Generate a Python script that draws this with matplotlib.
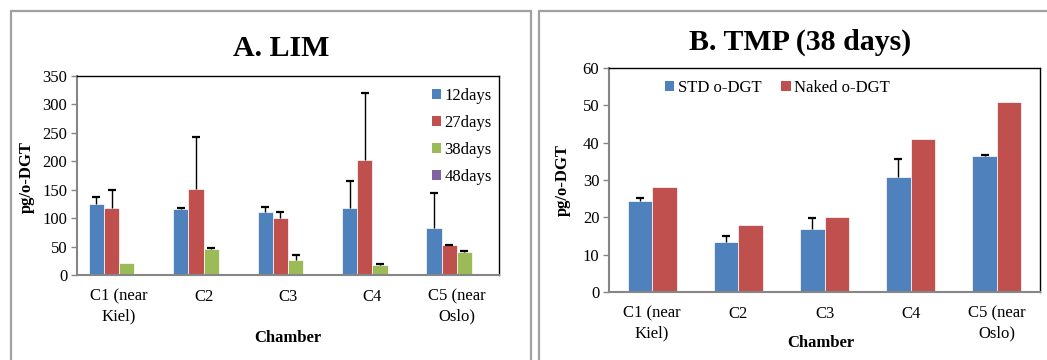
import matplotlib.pyplot as plt
from matplotlib.patches import Patch, Rectangle
import numpy as np

plt.rcParams['font.family'] = ['Liberation Serif', 'DejaVu Serif']

# chamber labels (same for both panels)
chambers = ['C1 (near\nKiel)', 'C2', 'C3', 'C4', 'C5 (near\nOslo)']

# panel A - LIM
lim_series = ['12days', '27days', '38days', '48days']
lim_12 = [125, 116, 110, 118, 82]
lim_27 = [118, 151, 100, 203, 52]
lim_38 = [21, 45, 27, 17, 41]
lim_48 = [0, 0, 0, 0, 0]
lim_12_err = [12, 2, 9, 47, 62]
lim_27_err = [32, 92, 10, 117, 1]
lim_38_err = [0, 3, 9, 2, 2]
lim_48_err = [0, 0, 0, 0, 0]

# panel B - TMP (38 days)
tmp_series = ['STD o-DGT', 'Naked o-DGT']
tmp_std = [24.5, 13.5, 16.8, 30.7, 36.4]
tmp_naked = [28, 18, 20, 41, 51]
tmp_std_err = [0.7, 1.5, 3.0, 4.9, 0.3]
tmp_naked_err = [0, 0, 0, 0, 0]

blue = '#4F81BD'
red = '#C0504D'
green = '#9BBB59'
purple = '#8064A2'

W, H = 1047, 360
fig = plt.figure(figsize=(W / 100, H / 100), dpi=100)

# chart area frames (Excel style)
for x0, x1 in [(11, 531), (539, 1060)]:
    fig.patches.append(Rectangle((x0 / W, -0.2), (x1 - x0) / W, 1.2 - 10.5 / H,
                                 transform=fig.transFigure, fill=False,
                                 edgecolor='#a0a0a0', lw=1.6))


def style_axes(ax, ymax, step):
    ax.set_xlim(-0.5, 4.5)
    ax.set_ylim(0, ymax)
    ax.set_yticks(np.arange(0, ymax + 1, step))
    ax.set_xticks(range(5))
    ax.set_xticklabels(chambers, fontsize=12)
    for t in ax.get_xticklabels():
        t.set_linespacing(1.3)
    ax.tick_params(axis='x', length=0, pad=10)
    ax.tick_params(axis='y', length=4, width=1, color='#868686', labelsize=12, pad=3)
    for s in ['top', 'right']:
        ax.spines[s].set_color('black')
        ax.spines[s].set_linewidth(1)
    for s in ['left', 'bottom']:
        ax.spines[s].set_color('#868686')
        ax.spines[s].set_linewidth(1.5)


def draw_bars(ax, vals, errs, colors, width):
    n = len(vals)
    x = np.arange(5)
    for i in range(n):
        off = (i - (n - 1) / 2) * width
        heights = np.array(vals[i], dtype=float)
        e = np.array(errs[i], dtype=float)
        ax.bar(x + off, heights, width, color=colors[i],
               edgecolor='white' if heights.any() else 'none', linewidth=0.5, zorder=2)
        mask = e > 0
        if mask.any():
            xs = (x + off)[mask]
            ax.vlines(xs, heights[mask], heights[mask] + e[mask],
                      color='black', lw=1, zorder=3)
            # upper cap only
            ax.plot(xs, heights[mask] + e[mask], ls='none', marker='_',
                    ms=6, mew=1.6, color='black', zorder=3)


# ---- panel A
axA = fig.add_axes([77 / W, (H - 275) / H, (499 - 77) / W, (275 - 76) / H])
style_axes(axA, 350, 50)
draw_bars(axA, [lim_12, lim_27, lim_38, lim_48],
          [lim_12_err, lim_27_err, lim_38_err, lim_48_err],
          [blue, red, green, purple], 0.18)
handles = [Patch(facecolor=c, edgecolor='none') for c in [blue, red, green, purple]]
axA.legend(handles, lim_series, loc='upper left', bbox_to_anchor=(0.825, 0.975),
           frameon=False, fontsize=12, handlelength=0.55, handleheight=0.55,
           handletextpad=0.2, labelspacing=0.66, borderaxespad=0)
fig.text(281 / W, 1 - 48 / H, 'A. LIM', ha='center', va='center',
         fontsize=21.5, fontweight='bold')
fig.text(27 / W, 1 - 177 / H, 'pg/o-DGT', ha='center', va='center',
         rotation=90, fontsize=12, fontweight='bold')
fig.text(288 / W, 1 - 338 / H, 'Chamber', ha='center', va='center',
         fontsize=12, fontweight='bold')

# ---- panel B
axB = fig.add_axes([609 / W, (H - 292) / H, (1040 - 609) / W, (292 - 68) / H])
style_axes(axB, 60, 10)
draw_bars(axB, [tmp_std, tmp_naked], [tmp_std_err, tmp_naked_err],
          [blue, red], 0.285)
handles = [Patch(facecolor=c, edgecolor='none') for c in [blue, red]]
axB.legend(handles, tmp_series, loc='upper left', bbox_to_anchor=(0.115, 0.975),
           ncol=2, frameon=False, fontsize=12, handlelength=0.55, handleheight=0.55,
           handletextpad=0.2, columnspacing=1.2, borderaxespad=0)
fig.text(800 / W, 1 - 42 / H, 'B. TMP (38 days)', ha='center', va='center',
         fontsize=21.5, fontweight='bold')
fig.text(563 / W, 1 - 180 / H, 'pg/o-DGT', ha='center', va='center',
         rotation=90, fontsize=12, fontweight='bold')
fig.text(821 / W, 1 - 343 / H, 'Chamber', ha='center', va='center',
         fontsize=12, fontweight='bold')

fig.savefig('out.png', dpi=100)
